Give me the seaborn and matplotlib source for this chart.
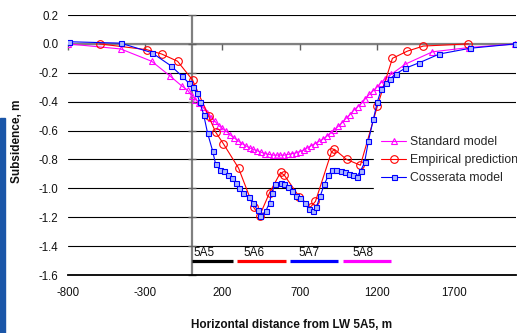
import matplotlib
matplotlib.use("Agg")
import matplotlib.pyplot as plt
import seaborn as sns
import pandas as pd
from matplotlib.patches import Rectangle

# ---------------- data ----------------
std_x = [-800, -459, -259, -142, -65, -26, 0, 25, 50, 75, 100, 125, 150, 175, 200,
         225, 250, 275, 300, 325, 350, 375, 400, 425, 450, 475, 500, 525, 550, 575,
         600, 625, 650, 675, 700, 725, 750, 775, 800, 825, 850, 875, 900, 925, 950,
         975, 1000, 1025, 1050, 1075, 1100, 1125, 1150, 1175, 1200, 1225, 1250, 1293,
         1384, 1559, 1798, 2096]
std_y = [0.0, -0.035, -0.12, -0.22, -0.29, -0.32, -0.36, -0.385, -0.41, -0.44, -0.475,
         -0.51, -0.535, -0.565, -0.585, -0.605, -0.63, -0.65, -0.67, -0.69, -0.705,
         -0.72, -0.73, -0.74, -0.75, -0.76, -0.765, -0.77, -0.77, -0.77, -0.77, -0.765,
         -0.76, -0.755, -0.745, -0.735, -0.72, -0.705, -0.69, -0.675, -0.66, -0.64,
         -0.615, -0.595, -0.57, -0.545, -0.515, -0.49, -0.46, -0.435, -0.41, -0.38,
         -0.35, -0.325, -0.30, -0.27, -0.245, -0.21, -0.14, -0.055, -0.025, 0.0]

emp_x = [-595, -291, -194, -91, 6, 110, 155, 205, 304, 401, 440, 505, 576, 601, 698,
         770, 802, 905, 925, 1003, 1093, 1203, 1300, 1397, 1500, 1792]
emp_y = [0.0, -0.04, -0.07, -0.12, -0.25, -0.50, -0.61, -0.69, -0.86, -1.13, -1.19,
         -1.03, -0.89, -0.91, -1.06, -1.13, -1.09, -0.75, -0.73, -0.80, -0.84, -0.43,
         -0.10, -0.05, -0.015, 0.0]

cos_x = [-795, -459, -259, -136, -65, -19, 6, 32, 52, 78, 104, 136, 155, 181, 207, 233,
         259, 285, 310, 336, 369, 395, 427, 446, 479, 505, 518, 543, 576, 601, 627, 653,
         679, 705, 731, 757, 783, 808, 834, 860, 886, 912, 938, 964, 990, 1016, 1042,
         1068, 1094, 1120, 1145, 1177, 1203, 1229, 1261, 1287, 1320, 1380, 1475, 1604,
         1805, 2096]
cos_y = [0.015, 0.005, -0.06, -0.15, -0.22, -0.27, -0.30, -0.34, -0.40, -0.49, -0.62,
         -0.74, -0.83, -0.87, -0.88, -0.91, -0.93, -0.96, -1.00, -1.03, -1.06, -1.10,
         -1.15, -1.19, -1.16, -1.10, -1.03, -0.97, -0.96, -0.97, -0.99, -1.02, -1.05,
         -1.07, -1.10, -1.14, -1.16, -1.13, -1.05, -0.97, -0.91, -0.87, -0.87, -0.88,
         -0.89, -0.90, -0.91, -0.92, -0.88, -0.82, -0.67, -0.52, -0.40, -0.31, -0.27,
         -0.24, -0.21, -0.17, -0.13, -0.07, -0.03, 0.0]

panel_names = ["5A5", "5A6", "5A7", "5A8"]
panel_start = [0, 297, 634, 977]
panel_end = [265, 608, 945, 1294]
panel_label_x = [11, 336, 692, 1041]
panel_colors = ["#000000", "#ff0000", "#0000ff", "#ff00ff"]
panel_y = -1.5
panel_label_y = -1.468

x_ticks = [-800, -300, 200, 700, 1200, 1700]
y_ticks = [0.2, 0.0, -0.2, -0.4, -0.6, -0.8, -1.0, -1.2, -1.4, -1.6]
y_tick_labels = ["0.2", "0.0", "-0.2", "-0.4", "-0.6", "-0.8", "-1.0", "-1.2", "-1.4", "-1.6"]

# ---------------- style ----------------
sns.set_style("white")
plt.rcParams["font.family"] = ["Liberation Sans", "DejaVu Sans"]
plt.rcParams["axes.unicode_minus"] = False

fig = plt.figure(figsize=(5.17, 3.33), dpi=100)
ax = fig.add_axes([68 / 517, 1 - 275 / 333, 448 / 517, 260 / 333])

# blue strip on the left page edge
fig.patches.append(Rectangle((0, 0), 5 / 517, (333 - 118) / 333,
                             transform=fig.transFigure, color="#1a56a8", zorder=0))

ax.set_xlim(-800, 2100)
ax.set_ylim(-1.6, 0.2)
ax.set_xticks(x_ticks)
ax.set_xticklabels([str(v) for v in x_ticks])
ax.set_yticks(y_ticks)
ax.set_yticklabels(y_tick_labels)
ax.grid(axis="y", color="#000000", lw=0.8)
ax.grid(axis="x", visible=False)
ax.set_axisbelow(True)
for s in ["top", "right", "left"]:
    ax.spines[s].set_visible(False)
ax.spines["bottom"].set_color("black")
ax.spines["bottom"].set_linewidth(1.3)
ax.tick_params(axis="both", length=0, labelsize=8.3, colors="#111111")
ax.tick_params(axis="x", pad=9)
ax.tick_params(axis="y", pad=7)

# crossing axes at x=0 and y=0
ax.axhline(0, color="#808080", lw=1.6, zorder=1.5)
ax.axvline(0, color="#808080", lw=1.6, zorder=1.5)
ax.plot(x_ticks, [0] * len(x_ticks), ls="none", marker=3, ms=4, mec="#606060",
        mew=1.0, zorder=1.6, clip_on=False)
ax.plot([0] * len(y_ticks), y_ticks, ls="none", marker="_", ms=6, mec="#606060",
        mew=1.0, zorder=1.6, clip_on=False)

# series
sns.lineplot(x=std_x, y=std_y, ax=ax, sort=False, estimator=None, color="#ff00ff",
             lw=0.8, marker="^", markersize=4.5, markerfacecolor="none",
             markeredgecolor="#ff00ff", markeredgewidth=0.8, label="Standard model",
             zorder=3)
sns.lineplot(x=emp_x, y=emp_y, ax=ax, sort=False, estimator=None, color="#ff0000",
             lw=0.8, marker="o", markersize=5.5, markerfacecolor="none",
             markeredgecolor="#ff0000", markeredgewidth=0.8, label="Empirical prediction",
             zorder=4)
sns.lineplot(x=cos_x, y=cos_y, ax=ax, sort=False, estimator=None, color="#0000ff",
             lw=0.8, marker="s", markersize=3.6, markerfacecolor="#aab8ff",
             markeredgecolor="#0000ff", markeredgewidth=0.8, label="Cosserata model",
             zorder=5)

# panel markers
ax.hlines([panel_y] * len(panel_names), panel_start, panel_end, colors=panel_colors,
          lw=2.3, zorder=4)
for name, lx in zip(panel_names, panel_label_x):
    ax.text(lx, panel_label_y, name, fontsize=8.5, ha="left", va="baseline",
            color="#111111")

ax.set_xlabel("")
ax.set_ylabel("")
handles, labels = ax.get_legend_handles_labels()
leg = ax.legend(handles, labels, loc="center left", bbox_to_anchor=(374 / 517, 1 - 160 / 333),
                bbox_transform=fig.transFigure, frameon=True, fancybox=False,
                facecolor="white", edgecolor="white", framealpha=1, fontsize=8.8,
                handlelength=2.0, handletextpad=0.35, labelspacing=0.5,
                borderpad=0.6, borderaxespad=0)
leg.set_zorder(10)

fig.text(17 / 517, 1 - 141 / 333, "Subsidence, m", rotation=90, ha="center",
         va="center", fontsize=8.5, fontweight="bold", color="#111111")
fig.text(292 / 517, 1 - 325 / 333, "Horizontal distance from LW 5A5, m", ha="center",
         va="center", fontsize=8.5, fontweight="bold", color="#111111")

fig.savefig("out.png", dpi=100)
